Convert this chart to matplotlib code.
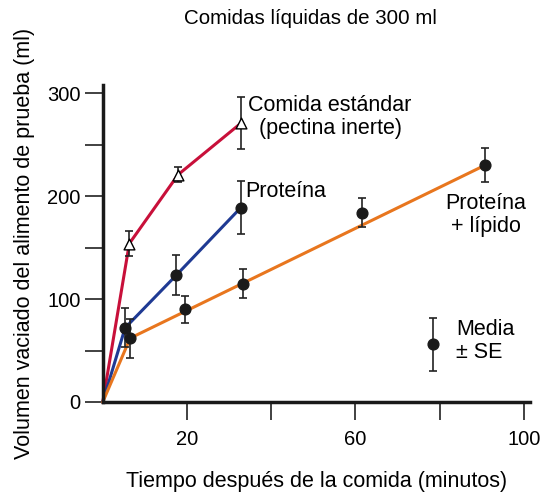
import numpy as np
import matplotlib.pyplot as plt

# Data
std_x = [6.3, 17.9, 32.8]
std_y = [154, 221, 271]
std_se = [12, 7, 25]

prot_x = [5.3, 17.4, 32.8]
prot_y = [72, 123, 189]
prot_se = [19, 19.5, 26]

lip_x = [6.5, 19.5, 33.3, 61.5, 90.7]
lip_y = [62, 90, 115, 184, 230]
lip_se = [19, 13, 14, 14, 16.5]

# orange line is a straight fit through the first and last points
lip_line_x = [0, 6.5, 90.7]
lip_line_y = [0, 62, 230]

key_x, key_y, key_se = 78.4, 56, 26

red = '#C8103A'
blue = '#1F3A93'
orange = '#E8761E'


def main():
    plt.rcParams['font.family'] = ['Liberation Sans', 'DejaVu Sans']
    fig = plt.figure(figsize=(5.41, 4.95), dpi=100)
    ax = fig.add_axes([0.19, 0.188, 0.79, 0.64])

    # lines from origin
    ax.plot([0] + std_x, [0] + std_y, color=red, lw=2.2, zorder=2, clip_on=False)
    ax.plot([0] + prot_x, [0] + prot_y, color=blue, lw=2.2, zorder=2, clip_on=False)
    ax.plot(lip_line_x, lip_line_y, color=orange, lw=2.2, zorder=2, clip_on=False)

    eb = dict(fmt='none', ecolor='#222222', elinewidth=1.2, capsize=3, capthick=1.2, zorder=3)
    ax.errorbar(std_x, std_y, yerr=std_se, **eb)
    ax.errorbar(prot_x, prot_y, yerr=prot_se, **eb)
    ax.errorbar(lip_x, lip_y, yerr=lip_se, **eb)
    ax.errorbar([key_x], [key_y], yerr=[key_se], **eb)

    ax.scatter(std_x, std_y, marker='^', s=60, facecolor='white', edgecolor='black',
               linewidths=1.0, zorder=4)
    ax.scatter(prot_x + lip_x + [key_x], prot_y + lip_y + [key_y], marker='o', s=60,
               color='#1a1a1a', zorder=4)

    # annotations
    fs = 15.5
    ax.text(54.0, 277, 'Comida estándar\n(pectina inerte)', ha='center', va='center',
            fontsize=fs, linespacing=1.1)
    ax.text(33.9, 205, 'Proteína', ha='left', va='center', fontsize=fs)
    ax.text(91.0, 181.5, 'Proteína\n+ lípido', ha='center', va='center', fontsize=fs,
            linespacing=1.1)
    ax.text(83.9, 59, 'Media\n± SE', ha='left', va='center', fontsize=fs,
            linespacing=1.1)

    ax.set_xlim(0, 101.5)
    ax.set_ylim(0, 308)
    ax.set_xticks([20, 40, 60, 80, 100])
    ax.set_xticklabels(['20', '', '60', '', '100'])
    ax.set_yticks([0, 50, 100, 150, 200, 250, 300])
    ax.set_yticklabels(['0', '', '100', '', '200', '', '300'])
    ax.tick_params(axis='both', direction='out', length=13, width=1.3, labelsize=14.5,
                   color='#333333')
    ax.tick_params(axis='x', pad=7)
    ax.tick_params(axis='y', pad=3)

    for side in ['top', 'right']:
        ax.spines[side].set_visible(False)
    for side in ['left', 'bottom']:
        ax.spines[side].set_linewidth(2.5)
        ax.spines[side].set_color('#1a1a1a')

    ax.set_xlabel('Tiempo después de la comida (minutos)', fontsize=fs, labelpad=16)
    ax.set_ylabel('Volumen vaciado del alimento de prueba (ml)', fontsize=fs, labelpad=9)
    fig.text(0.573, 0.962, 'Comidas líquidas de 300 ml', ha='center', va='center',
             fontsize=14.8)

    fig.savefig('out.png', dpi=100)


if __name__ == '__main__':
    main()
